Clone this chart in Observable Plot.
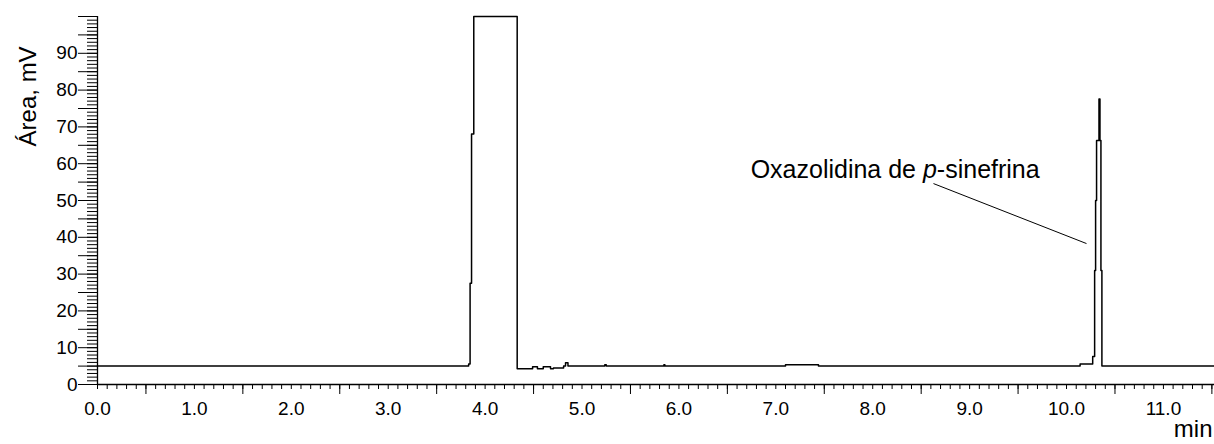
<!DOCTYPE html>
<html>
<head>
<meta charset="utf-8">
<script src="https://cdn.jsdelivr.net/npm/d3@7"></script>
<script src="https://cdn.jsdelivr.net/npm/@observablehq/plot@0.6"></script>
<style>
  html, body { margin: 0; padding: 0; background: #fff; }
  svg { display: block; }
</style>
</head>
<body>
<div id="chart"></div>
<script>
// Chromatogram trace (retention time in min, signal in mV)
const time   = [0,   3.83, 3.845, 3.86, 3.883, 4.331, 4.49, 4.54, 4.60, 4.675, 4.705, 4.81, 4.83, 4.855, 5.235, 5.25, 5.845, 5.855, 7.10, 7.44, 10.14, 10.27, 10.29, 10.30, 10.31, 10.335, 10.345, 10.355, 10.365, 11.53];
const signal = [5.0, 5.6,  27.5,  68.1, 100,   4.3,   4.8,  4.3,  4.8,  4.3,   4.5,   5.0,  5.9,  5.0,   5.4,   5.0,  5.4,   5.0,   5.4,  5.0,  5.6,   7.6,   31.0,  50.0,  66.3,  77.6,   66.3,   31.0,   5.0,    5.0];

// Axis ticks and labels
const xLabelTicks = [0, 1, 2, 3, 4, 5, 6, 7, 8, 9, 10, 11];
const xHalfTicks  = [0.5, 1.5, 2.5, 3.5, 4.5, 5.5, 6.5, 7.5, 8.5, 9.5, 10.5, 11.5];
const xMinorTicks = d3.range(0, 116).map(i => i / 10);
const yLabelTicks = [0, 10, 20, 30, 40, 50, 60, 70, 80, 90];
const yMajorTicks = d3.range(0, 21).map(i => i * 5);
const yMinorTicks = d3.range(0, 101);

// Texts
const yTitle = "Área, mV";
const xTitle = "min";
const peakLabel = "Oxazolidina de p-sinefrina";

const trace = time.map((t, i) => ({t, v: signal[i]}));

const chart = Plot.plot({
  width: 1214,
  height: 444,
  marginLeft: 97,
  marginRight: 0,
  marginTop: 16,
  marginBottom: 60,
  style: {
    fontFamily: "'Liberation Sans', Arial, sans-serif",
    fontSize: "19px",
    color: "#000",
    background: "#fff",
    overflow: "visible"
  },
  x: {domain: [0, 11.527]},
  y: {domain: [0, 100]},
  marks: [
    Plot.axisX(xMinorTicks, {tickSize: 5, tickFormat: () => "", label: null, strokeWidth: 1}),
    Plot.axisX(xHalfTicks, {tickSize: 10, tickFormat: () => "", label: null, strokeWidth: 1}),
    Plot.axisX(xLabelTicks, {tickSize: 0, tickPadding: 17, tickFormat: d3.format(".1f"), label: null, fontSize: 19}),
    Plot.axisY(yMinorTicks, {tickSize: 10, tickFormat: () => "", label: null, strokeWidth: 1}),
    Plot.axisY(yMajorTicks, {tickSize: 19, tickFormat: () => "", label: null, strokeWidth: 1}),
    Plot.axisY(yLabelTicks, {tickSize: 0, tickPadding: 20, tickFormat: d3.format("d"), label: null, fontSize: 19}),
    Plot.ruleY([0], {stroke: "#000", strokeWidth: 1.3}),
    Plot.ruleX([0], {stroke: "#000", strokeWidth: 1.3}),
    Plot.line(trace, {x: "t", y: "v", curve: "step-after", stroke: "#000", strokeWidth: 1.5}),
    Plot.link([peakLabel], {x1: () => 8.627, y1: () => 54.6, x2: () => 10.206, y2: () => 38.3, stroke: "#000", strokeWidth: 1}),
    Plot.text([peakLabel], {x: () => 6.74, y: () => 56, text: d => d, textAnchor: "start", lineAnchor: "bottom", fontSize: 25, fill: "#000"}),
    Plot.text([yTitle], {frameAnchor: "left", y: () => 64.7, dx: -69, rotate: -90, text: d => d, fontSize: 24, fill: "#000"}),
    Plot.text([xTitle], {frameAnchor: "bottom-right", dx: -2, dy: 52, text: d => d, textAnchor: "end", lineAnchor: "bottom", fontSize: 24, fill: "#000"})
  ]
});

// Italic "p" inside the peak label
d3.select(chart).selectAll("text").each(function() {
  if (this.textContent === peakLabel) {
    const el = d3.select(this);
    let dy = null;
    const ts = el.select("tspan");
    if (!ts.empty()) dy = ts.attr("dy");
    el.text(null);
    const parts = [["Oxazolidina de ", null], ["p", "italic"], ["-sinefrina", null]];
    parts.forEach(([s, style], i) => {
      const sp = el.append("tspan").text(s);
      if (style) sp.attr("font-style", style);
      if (i === 0 && dy) sp.attr("dy", dy);
    });
  }
});

document.getElementById("chart").appendChild(chart);
</script>
</body>
</html>
